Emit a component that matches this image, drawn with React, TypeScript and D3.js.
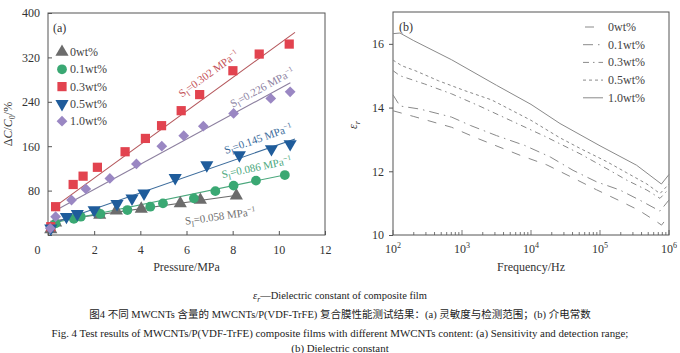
import * as React from 'react'
import { useEffect, useRef } from 'react'
import * as d3 from 'd3'

const WIDTH = 680
const HEIGHT = 353
const SERIF = "'Liberation Serif', 'Times New Roman', serif"
const CAPTION_FONT = "'Liberation Serif', 'Noto Sans CJK SC', serif"

// ---- panel (a): sensitivity, one array pair per MWCNTs content ----
const seriesNames = ['0wt%', '0.1wt%', '0.3wt%', '0.5wt%', '1.0wt%']

const pressure0 = [0.12, 0.33, 2.24, 2.96, 4.04, 5.73, 6.6, 8.16]
const response0 = [10, 22, 36, 44, 47, 57, 63, 71]
const pressure01 = [0.12, 0.33, 1.12, 1.42, 2.27, 3.44, 4.43, 4.98, 6.32, 7.25, 8.04, 9.01, 10.26]
const response01 = [14, 21, 29, 33, 38, 45, 51, 57, 66, 79, 89, 98, 108]
const pressure03 = [0.12, 0.33, 1.09, 1.52, 2.14, 3.34, 4.22, 4.92, 5.77, 6.57, 8.01, 9.15, 10.45]
const response03 = [15, 51, 91, 106, 122, 150, 174, 197, 224, 253, 296, 326, 344]
const pressure05 = [0.12, 0.8, 1.27, 2.0, 2.99, 3.64, 4.16, 5.51, 6.88, 8.29, 9.68, 10.49]
const response05 = [12, 33, 38, 45, 56, 66, 75, 103, 126, 144, 155, 164]
const pressure10 = [0.1, 0.33, 1.02, 1.64, 2.68, 3.83, 4.93, 5.88, 6.73, 8.04, 9.65, 10.49]
const response10 = [12, 33, 63, 83, 102, 128, 160, 179, 196, 219, 246, 258]

const pressures = [pressure0, pressure01, pressure03, pressure05, pressure10]
const responses = [response0, response01, response03, response05, response10]

// linear fits: S (MPa^-1), intercept (%), fitted range (MPa)
const sensitivity = [0.058, 0.086, 0.302, 0.145, 0.226]
const intercept = [24, 20, 42, 18, 37]
const fitStart = [0.1, 0.1, 0.15, 0.1, 0.3]
const fitEnd = [8.2, 10.3, 10.7, 10.7, 10.5]
// where the S label sits along its fit line, and its distance from it
const labelAt = [7.35, 9.15, 7.4, 9.28, 9.47]
const labelShift = [22, -9.5, -13.5, -8.5, -5.5]

const markerColors = ['#6c6c6c', '#3aa873', '#e2434f', '#1f5c9b', '#9a87c3']
const fitColors = ['#6c6c6c', '#4aa77c', '#b4565b', '#3c6c9c', '#8c7f9f']
const labelColors = ['#707070', '#4aa77c', '#c45258', '#3c6c9c', '#8c82a2']

const xTicksA = [0, 2, 4, 6, 8, 10, 12]
const yTicksA = [0, 80, 160, 240, 320, 400]

// ---- panel (b): dielectric constant vs frequency ----
const freq0 = [100, 200, 710, 1600, 7000, 17000, 40000, 89000, 186000, 363000, 660000, 780000, 1000000]
const eps0 = [13.9, 13.72, 13.38, 13.05, 12.5, 12.2, 11.8, 11.42, 11.09, 10.78, 10.42, 10.31, 10.62]
const freq01 = [100, 126, 250, 708, 1320, 3160, 8130, 19000, 40700, 89000, 195000, 380000, 740000, 1000000]
const eps01 = [14.4, 14.05, 13.95, 13.7, 13.44, 13.12, 12.81, 12.45, 12.03, 11.67, 11.41, 11.09, 10.75, 11.1]
const freq03 = [100, 126, 288, 708, 1740, 5000, 15800, 51300, 126000, 245000, 479000, 740000, 1000000]
const eps03 = [15.16, 15.0, 14.74, 14.43, 14.06, 13.6, 13.1, 12.55, 12.08, 11.72, 11.41, 11.15, 11.45]
const freq05 = [100, 135, 209, 457, 1100, 2690, 10000, 26300, 51300, 126000, 245000, 479000, 740000, 1000000]
const eps05 = [15.49, 15.31, 15.16, 14.84, 14.53, 14.24, 13.6, 13.05, 12.72, 12.3, 11.95, 11.6, 11.3, 11.6]
const freq10 = [100, 126, 200, 708, 3160, 10000, 26300, 100000, 339000, 776000, 1000000]
const eps10 = [16.32, 16.34, 16.1, 15.5, 14.7, 14.1, 13.5, 12.8, 12.19, 11.6, 11.9]

const freqs = [freq0, freq01, freq03, freq05, freq10]
const epsValues = [eps0, eps01, eps03, eps05, eps10]
const dashStyles = ['9,9', '10,5,1.5,5', '6,4,1.5,4', '3,3', 'none']
const legendDashOffset = [-2, 0, 0, 0, 0]
const yTicksB = [10, 12, 14, 16]
const decades = [1e2, 1e3, 1e4, 1e5, 1e6]

export default function App() {
  const svgRef = useRef<SVGSVGElement>(null)

  useEffect(() => {
    if (!svgRef.current) return
    const svg = d3.select(svgRef.current)
    svg.selectAll('*').remove()

    svg.append('rect').attr('width', WIDTH).attr('height', HEIGHT).attr('fill', '#fff')

    // ================= (a) =================
    const xA = d3.scaleLinear().domain([0, 12]).range([48, 325])
    const yA = d3.scaleLinear().domain([0, 400]).range([235, 13])
    const gA = svg.append('g').attr('font-family', SERIF)

    gA.append('rect')
      .attr('x', xA(0)).attr('y', yA(400))
      .attr('width', xA(12) - xA(0)).attr('height', yA(0) - yA(400))
      .attr('fill', 'none').attr('stroke', '#555').attr('stroke-width', 1)

    const axisYA = gA.append('g')
      .attr('transform', `translate(${xA(0)},0)`)
      .call(d3.axisLeft(yA).tickValues(yTicksA).tickSize(-4).tickPadding(8)
        .tickFormat(d => (d === 0 ? '' : String(d))))
    const axisXA = gA.append('g')
      .attr('transform', `translate(0,${yA(0)})`)
      .call(d3.axisBottom(xA).tickValues(xTicksA).tickSize(-4).tickPadding(10))
    for (const ax of [axisYA, axisXA]) {
      ax.attr('font-family', SERIF)
      ax.select('.domain').remove()
      ax.selectAll('line').attr('stroke', '#555')
      ax.selectAll('text').attr('font-size', 12).attr('fill', '#333')
    }
    axisXA.selectAll('text').filter(d => d === 0).attr('dx', -11)

    // fit lines
    const fitLine = d3.line<number>()
      .x(d => xA(d[0]))
      .y(d => yA(d[1]))
    sensitivity.forEach((s, i) => {
      const f = (p: number) => intercept[i] + s * 100 * p
      gA.append('path')
        .attr('d', fitLine([[fitStart[i], f(fitStart[i])], [fitEnd[i], f(fitEnd[i])]] as any))
        .attr('fill', 'none')
        .attr('stroke', fitColors[i])
        .attr('stroke-width', 1.1)
    })

    // markers
    const symbolFor = [
      { type: d3.symbolTriangle, size: 75, rot: 0 },
      { type: d3.symbolCircle, size: 75, rot: 0 },
      { type: d3.symbolSquare, size: 85, rot: 0 },
      { type: d3.symbolTriangle, size: 75, rot: 180 },
      { type: d3.symbolSquare, size: 58, rot: 45 },
    ]
    pressures.forEach((ps, i) => {
      const sym = d3.symbol().type(symbolFor[i].type).size(symbolFor[i].size)
      gA.append('g').selectAll('path')
        .data(ps.map((p, j) => [p, responses[i][j]]))
        .join('path')
        .attr('d', sym() as string)
        .attr('transform', d => `translate(${xA(d[0])},${yA(d[1])}) rotate(${symbolFor[i].rot})`)
        .attr('fill', markerColors[i])
    })

    // S labels along fits
    sensitivity.forEach((s, i) => {
      const f = (p: number) => intercept[i] + s * 100 * p
      const px = xA(labelAt[i])
      const py = yA(f(labelAt[i]))
      const ang = Math.atan2(yA(f(labelAt[i] + 1)) - py, xA(labelAt[i] + 1) - px) * 180 / Math.PI
      const t = gA.append('text')
        .attr('transform', `translate(${px},${py}) rotate(${ang})`)
        .attr('y', labelShift[i])
        .attr('text-anchor', 'middle')
        .attr('font-size', 11)
        .attr('fill', labelColors[i])
      t.append('tspan').text('S')
      t.append('tspan').attr('dy', 3).attr('font-size', 8).text('I')
      t.append('tspan').attr('dy', -3).text(`=${s.toFixed(3)} MPa`)
      t.append('tspan').attr('dy', -4).attr('font-size', 7.5).text('−1')
    })

    // legend (a)
    gA.append('text').attr('x', 53).attr('y', 32).attr('font-size', 12).attr('fill', '#333').text('(a)')
    seriesNames.forEach((name, i) => {
      const ly = 52 + i * 17.3
      const sym = d3.symbol().type(symbolFor[i].type).size(symbolFor[i].size)
      gA.append('path')
        .attr('d', sym() as string)
        .attr('transform', `translate(62,${ly}) rotate(${symbolFor[i].rot})`)
        .attr('fill', markerColors[i])
      gA.append('text')
        .attr('x', 70).attr('y', ly + 4)
        .attr('font-size', 12).attr('fill', '#444')
        .text(name)
    })

    // axis titles (a)
    const yTitleA = gA.append('text')
      .attr('transform', `translate(12,124) rotate(-90)`)
      .attr('text-anchor', 'middle').attr('font-size', 12).attr('fill', '#333')
    yTitleA.append('tspan').text('Δ')
    yTitleA.append('tspan').attr('font-style', 'italic').text('C')
    yTitleA.append('tspan').text('/')
    yTitleA.append('tspan').attr('font-style', 'italic').text('C')
    yTitleA.append('tspan').attr('dy', 3).attr('font-size', 8).text('0')
    yTitleA.append('tspan').attr('dy', -3).text('/%')

    gA.append('text')
      .attr('x', (xA(0) + xA(12)) / 2).attr('y', 271)
      .attr('text-anchor', 'middle').attr('font-size', 12).attr('fill', '#333')
      .text('Pressure/MPa')

    // ================= (b) =================
    const xB = d3.scaleLog().domain([1e2, 1e6]).range([393, 669])
    const yB = d3.scaleLinear().domain([10, 17]).range([235, 12])
    const gB = svg.append('g').attr('font-family', SERIF)

    gB.append('rect')
      .attr('x', xB(1e2)).attr('y', yB(17))
      .attr('width', xB(1e6) - xB(1e2)).attr('height', yB(10) - yB(17))
      .attr('fill', 'none').attr('stroke', '#555').attr('stroke-width', 1)

    // bottom ticks: minor + decades, pointing inward
    gB.append('g').selectAll('line')
      .data(xB.ticks())
      .join('line')
      .attr('x1', d => xB(d)).attr('x2', d => xB(d))
      .attr('y1', yB(10))
      .attr('y2', d => yB(10) - (decades.includes(d) ? 5 : 3))
      .attr('stroke', '#555').attr('stroke-width', 0.8)

    decades.forEach(d => {
      const t = gB.append('text')
        .attr('x', xB(d)).attr('y', 253)
        .attr('text-anchor', 'middle').attr('font-size', 12).attr('fill', '#333')
      t.append('tspan').text('10')
      t.append('tspan').attr('dy', -5).attr('font-size', 8).text(String(Math.round(Math.log10(d))))
    })

    const axisYB = gB.append('g')
      .attr('transform', `translate(${xB(1e2)},0)`)
      .attr('font-family', SERIF)
      .call(d3.axisLeft(yB).tickValues(yTicksB).tickSize(4).tickPadding(5).tickFormat(d3.format('d')))
    axisYB.attr('font-family', SERIF)
    axisYB.select('.domain').remove()
    axisYB.selectAll('line').attr('stroke', '#555')
    axisYB.selectAll('text').attr('font-size', 12).attr('fill', '#333')

    const epsLine = d3.line<[number, number]>()
      .x(d => xB(d[0]))
      .y(d => yB(d[1]))
    freqs.forEach((fs, i) => {
      gB.append('path')
        .attr('d', epsLine(fs.map((f, j) => [f, epsValues[i][j]] as [number, number])) as string)
        .attr('fill', 'none')
        .attr('stroke', '#8a8a8a')
        .attr('stroke-width', 1)
        .attr('stroke-dasharray', dashStyles[i])
    })

    // legend (b)
    gB.append('text').attr('x', 399).attr('y', 31).attr('font-size', 12).attr('fill', '#333').text('(b)')
    seriesNames.forEach((name, i) => {
      const ly = 27 + i * 17.7
      gB.append('line')
        .attr('x1', 583).attr('x2', 603).attr('y1', ly).attr('y2', ly)
        .attr('stroke', '#8a8a8a').attr('stroke-width', 1)
        .attr('stroke-dasharray', dashStyles[i])
        .attr('stroke-dashoffset', legendDashOffset[i])
      gB.append('text')
        .attr('x', 608).attr('y', ly + 4)
        .attr('font-size', 12).attr('fill', '#444')
        .text(name)
    })

    const yTitleB = gB.append('text')
      .attr('transform', `translate(357,125) rotate(-90)`)
      .attr('text-anchor', 'middle').attr('font-size', 12).attr('fill', '#333')
      .attr('font-style', 'italic')
    yTitleB.append('tspan').text('ε')
    yTitleB.append('tspan').attr('dy', 3).attr('font-size', 8).text('r')

    gB.append('text')
      .attr('x', (xB(1e2) + xB(1e6)) / 2).attr('y', 271)
      .attr('text-anchor', 'middle').attr('font-size', 12).attr('fill', '#333')
      .text('Frequency/Hz')

    // ================= captions =================
    const cap = svg.append('g').attr('font-family', CAPTION_FONT).attr('fill', '#222')
    const c1 = cap.append('text').attr('x', 340).attr('y', 299).attr('text-anchor', 'middle').attr('font-size', 10.5)
    c1.append('tspan').attr('font-style', 'italic').text('ε')
    c1.append('tspan').attr('dy', 2.5).attr('font-size', 7.5).attr('font-style', 'italic').text('r')
    c1.append('tspan').attr('dy', -2.5).text('—Dielectric constant of composite film')

    cap.append('text').attr('x', 340).attr('y', 318).attr('text-anchor', 'middle').attr('font-size', 10.5)
      .text('图4   不同 MWCNTs 含量的 MWCNTs/P(VDF-TrFE) 复合膜性能测试结果：(a) 灵敏度与检测范围；(b) 介电常数')
    cap.append('text').attr('x', 340).attr('y', 336.5).attr('text-anchor', 'middle').attr('font-size', 10.9)
      .text('Fig. 4   Test results of MWCNTs/P(VDF-TrFE) composite films with different MWCNTs content: (a) Sensitivity and detection range;')
    cap.append('text').attr('x', 340).attr('y', 352).attr('text-anchor', 'middle').attr('font-size', 10.9)
      .text('(b) Dielectric constant')
  }, [])

  return (
    <svg
      ref={svgRef}
      width={WIDTH}
      height={HEIGHT}
      style={{ position: 'absolute', left: 0, top: 0 }}
    />
  )
}
